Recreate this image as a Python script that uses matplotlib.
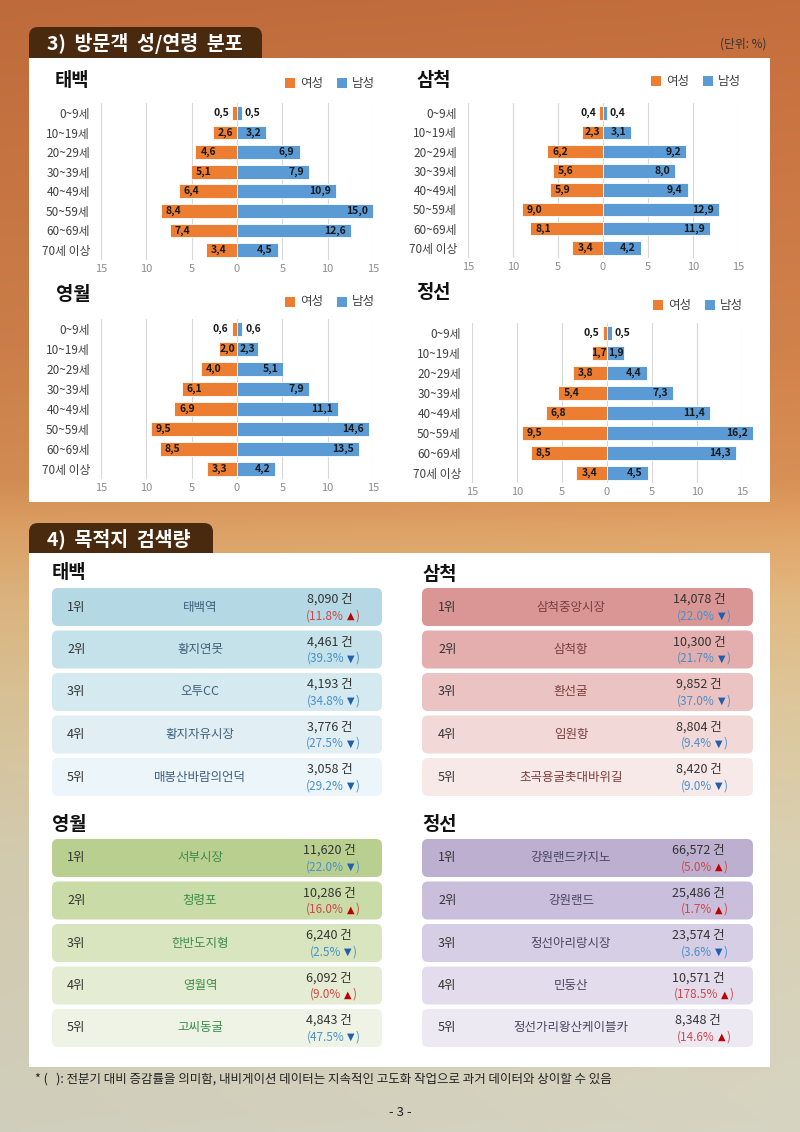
import numpy as np
import matplotlib
matplotlib.use('Agg')
import matplotlib.pyplot as plt
from matplotlib.patches import FancyBboxPatch, Rectangle

plt.rcParams['font.family'] = ['Noto Sans CJK KR', 'DejaVu Sans']

W, H = 800, 1132

# ---------------- data ----------------
age_groups = ['0~9세', '10~19세', '20~29세', '30~39세', '40~49세', '50~59세', '60~69세', '70세 이상']
taebaek_female = [0.5, 2.6, 4.6, 5.1, 6.4, 8.4, 7.4, 3.4]
taebaek_male = [0.5, 3.2, 6.9, 7.9, 10.9, 15.0, 12.6, 4.5]
samcheok_female = [0.4, 2.3, 6.2, 5.6, 5.9, 9.0, 8.1, 3.4]
samcheok_male = [0.4, 3.1, 9.2, 8.0, 9.4, 12.9, 11.9, 4.2]
yeongwol_female = [0.6, 2.0, 4.0, 6.1, 6.9, 9.5, 8.5, 3.3]
yeongwol_male = [0.6, 2.3, 5.1, 7.9, 11.1, 14.6, 13.5, 4.2]
jeongseon_female = [0.5, 1.7, 3.8, 5.4, 6.8, 9.5, 8.5, 3.4]
jeongseon_male = [0.5, 1.9, 4.4, 7.3, 11.4, 16.2, 14.3, 4.5]
x_ticks = [-15, -10, -5, 0, 5, 10, 15]
x_tick_labels = ['15', '10', '5', '0', '5', '10', '15']

ranks = ['1위', '2위', '3위', '4위', '5위']
taebaek_places = ['태백역', '황지연못', '오투CC', '황지자유시장', '매봉산바람의언덕']
taebaek_counts = [8090, 4461, 4193, 3776, 3058]
taebaek_changes = [11.8, -39.3, -34.8, -27.5, -29.2]
samcheok_places = ['삼척중앙시장', '삼척항', '환선굴', '임원항', '초곡용굴촛대바위길']
samcheok_counts = [14078, 10300, 9852, 8804, 8420]
samcheok_changes = [-22.0, -21.7, -37.0, -9.4, -9.0]
yeongwol_places = ['서부시장', '청령포', '한반도지형', '영월역', '고씨동굴']
yeongwol_counts = [11620, 10286, 6240, 6092, 4843]
yeongwol_changes = [-22.0, 16.0, -2.5, 9.0, -47.5]
jeongseon_places = ['강원랜드카지노', '강원랜드', '정선아리랑시장', '민둥산', '정선가리왕산케이블카']
jeongseon_counts = [66572, 25486, 23574, 10571, 8348]
jeongseon_changes = [5.0, 1.7, -3.6, 178.5, 14.6]

ORANGE = '#ED7D31'
BLUE = '#5B9BD5'

fig = plt.figure(figsize=(W / 100, H / 100), dpi=100)
renderer = fig.canvas.get_renderer()

# ---------------- background ----------------
bg = fig.add_axes([0, 0, 1, 1])
bg.set_xlim(0, W)
bg.set_ylim(H, 0)
bg.axis('off')
stops_y = [0, 150, 350, 480, 530, 600, 700, 850, 1132]
stops_c = np.array([(193, 108, 60), (200, 117, 66), (206, 128, 74), (213, 142, 84),
                    (222, 162, 102), (222, 182, 128), (218, 196, 152), (214, 205, 176),
                    (211, 209, 191)], dtype=float) / 255
yy = np.arange(H)
grad = np.stack([np.interp(yy, stops_y, stops_c[:, k]) for k in range(3)], axis=1)
img = np.repeat(grad[:, None, :], W, axis=1)
xx = np.linspace(0, 1, W)
img = img * (1 + 0.03 * (xx[None, :, None] - 0.5))
img = np.clip(img, 0, 1)
bg.imshow(img, extent=(0, W, H, 0), aspect='auto', zorder=0)

def tab(x0, x1, y0, y1, text):
    bg.add_patch(FancyBboxPatch((x0, y0), x1 - x0, (y1 - y0) + 12,
                                boxstyle='round,pad=0,rounding_size=9',
                                facecolor='#4A2A0F', edgecolor='none', zorder=1))
    bg.text(x0 + 18, (y0 + y1) / 2 + 1, text, color='white', fontsize=14, fontweight='bold',
            ha='left', va='center', zorder=3)

tab(29, 262, 27, 58, '3)  방문객  성/연령  분포')
tab(29, 213, 523, 553, '4)  목적지  검색량')
bg.add_patch(Rectangle((29, 58), 741, 444, facecolor='white', edgecolor='none', zorder=2))
bg.add_patch(Rectangle((29, 553), 741, 514, facecolor='white', edgecolor='none', zorder=2))
bg.text(767, 44, '(단위: %)', fontsize=8.5, color='#333333', ha='right', va='center', zorder=3)

bg.text(35, 1079, '* (   ): 전분기 대비 증감률을 의미함, 내비게이션 데이터는 지속적인 고도화 작업으로 과거 데이터와 상이할 수 있음',
        fontsize=9, color='#222222', ha='left', va='center', zorder=3)
bg.text(400, 1112, '- 3 -', fontsize=9.5, color='#222222', ha='center', va='center', zorder=3)

# ---------------- pyramids ----------------
PX2PT = 72 / 100

def legend(x, y):
    bg.add_patch(Rectangle((x, y - 5), 10, 10, facecolor=ORANGE, edgecolor='none', zorder=3))
    bg.text(x + 15, y, '여성', fontsize=9, color='#404040', ha='left', va='center', zorder=3)
    bg.add_patch(Rectangle((x + 52, y - 5), 10, 10, facecolor=BLUE, edgecolor='none', zorder=3))
    bg.text(x + 67, y, '남성', fontsize=9, color='#404040', ha='left', va='center', zorder=3)

def pyramid(title, title_xy, legend_xy, left, right, row0, row7, female, male):
    bg.text(title_xy[0], title_xy[1], title, fontsize=13.5, fontweight='bold', color='#111111',
            ha='left', va='center', zorder=3)
    legend(*legend_xy)
    n = len(age_groups)
    sp = (row7 - row0) / (n - 1)
    top, bottom = row0 - sp / 2, row7 + sp / 2
    ax = fig.add_axes([left / W, 1 - bottom / H, (right - left) / W, (bottom - top) / H])
    ax.set_facecolor('none')
    y = np.arange(n)
    b1 = ax.barh(y, [-v for v in female], height=0.7, color=ORANGE, edgecolor='white', linewidth=0.6, zorder=3)
    b2 = ax.barh(y, male, height=0.7, color=BLUE, edgecolor='white', linewidth=0.6, zorder=3)
    for p in list(b1) + list(b2):
        p.set_clip_on(False)
    ax.set_xlim(-15, 15)
    ax.set_ylim(n - 0.5, -0.5)
    ax.set_xticks(x_ticks)
    ax.set_xticklabels(x_tick_labels)
    ax.set_yticks(y)
    ax.set_yticklabels(age_groups)
    ax.tick_params(axis='x', length=0, labelsize=8, colors='#8C8C8C', pad=3)
    ax.tick_params(axis='y', length=0, labelsize=8.5, colors='#404040', pad=8)
    ax.grid(axis='x', color='#D9D9D9', lw=0.8, zorder=0)
    ax.grid(axis='y', visible=False)
    for s in ax.spines.values():
        s.set_visible(False)
    ppu = (right - left) / 30.0
    for vals, sgn in ((female, -1), (male, 1)):
        for i, v in enumerate(vals):
            lab = f'{v:.1f}'.replace('.', ',')
            wpx = v * ppu
            if v < 1.0:
                off = sgn * 3 * PX2PT
                ha = 'left' if sgn > 0 else 'right'
                xy = (sgn * v, i)
            elif wpx < 27:
                off = 0
                ha = 'center'
                xy = (sgn * v / 2, i)
            else:
                off = -sgn * 5 * PX2PT
                ha = 'right' if sgn > 0 else 'left'
                xy = (sgn * v, i)
            ax.annotate(lab, xy=xy, xytext=(off, 0), textcoords='offset points',
                        ha=ha, va='center', fontsize=7.5, fontweight='bold', color='#1A1A1A',
                        zorder=5, annotation_clip=False)
    return ax

pyramid('태백', (55, 80), (285, 83), 101, 373, 113, 250, taebaek_female, taebaek_male)
pyramid('삼척', (416, 80), (651, 81), 468, 738, 113, 248, samcheok_female, samcheok_male)
pyramid('영월', (56, 295), (285, 302), 101, 373, 329, 469, yeongwol_female, yeongwol_male)
pyramid('정선', (416, 293), (653, 305), 472, 742, 333, 473, jeongseon_female, jeongseon_male)

# ---------------- search tables ----------------
def pct_text(cx, cy, ch):
    if ch >= 0:
        body, tri, col, tcol = f'({abs(ch):.1f}%', '▲', '#D0474A', '#C00000'
    else:
        body, tri, col, tcol = f'({abs(ch):.1f}%', '▼', '#4A90C8', '#1F5FAF'
    t1 = bg.text(0, cy, body, fontsize=8.5, color=col, ha='left', va='center', zorder=4)
    t2 = bg.text(0, cy, tri, fontsize=7, color=tcol, ha='left', va='center', zorder=4,
                 family=['DejaVu Sans'])
    t3 = bg.text(0, cy, ')', fontsize=8.5, color=col, ha='left', va='center', zorder=4)
    w1 = t1.get_window_extent(renderer).width
    w2 = t2.get_window_extent(renderer).width
    w3 = t3.get_window_extent(renderer).width
    gap = 3
    total = w1 + gap + w2 + 1 + w3
    x = cx - total / 2
    t1.set_x(x)
    t2.set_x(x + w1 + gap)
    t3.set_x(x + w1 + gap + w2 + 1)

def table(title, title_xy, x0, x1, top0, places, counts, changes, row_colors, name_color,
          rank_x, name_x, count_x, pct_x):
    bg.text(title_xy[0], title_xy[1], title, fontsize=13.5, fontweight='bold', color='#111111',
            ha='left', va='center', zorder=3)
    pitch, h = 42.5, 38
    for i, (rk, pl, c, ch) in enumerate(zip(ranks, places, counts, changes)):
        t = top0 + i * pitch
        bg.add_patch(FancyBboxPatch((x0, t), x1 - x0, h, boxstyle='round,pad=0,rounding_size=6',
                                    facecolor=row_colors[i], edgecolor='none', zorder=3))
        cy = t + h / 2
        bg.text(rank_x, cy, rk, fontsize=9, color='#333333', ha='left', va='center', zorder=4)
        bg.text(name_x, cy, pl, fontsize=9, color=name_color, ha='center', va='center', zorder=4)
        bg.text(count_x, t + 11.5, f'{c:,} 건', fontsize=9, color='#333333', ha='center', va='center', zorder=4)
        pct_text(pct_x, t + 28, ch)

table('태백', (52, 573), 52, 382, 588, taebaek_places, taebaek_counts, taebaek_changes,
      ['#B4D9E5', '#C5E2EB', '#D4E9F0', '#E1EFF5', '#ECF5F9'], '#3F5F7A', 67, 200, 330, 333)
table('삼척', (422, 575), 422, 753, 588, samcheok_places, samcheok_counts, samcheok_changes,
      ['#D99694', '#E3AEAD', '#EBC3C2', '#F2D9D8', '#F8E9E9'], '#7A3E3E', 438, 571, 699, 704)
table('영월', (52, 825), 52, 382, 839, yeongwol_places, yeongwol_counts, yeongwol_changes,
      ['#B9CF8F', '#C9DBA6', '#D8E5BF', '#E4EDD3', '#EEF3E5'], '#3C8C4C', 67, 200, 329, 333)
table('정선', (422, 825), 422, 753, 839, jeongseon_places, jeongseon_counts, jeongseon_changes,
      ['#BCAFD0', '#C9BEDB', '#D6CEE4', '#E2DCEC', '#EDE9F3'], '#4A4560', 438, 571, 698, 704)

fig.savefig('out.png', dpi=100)
